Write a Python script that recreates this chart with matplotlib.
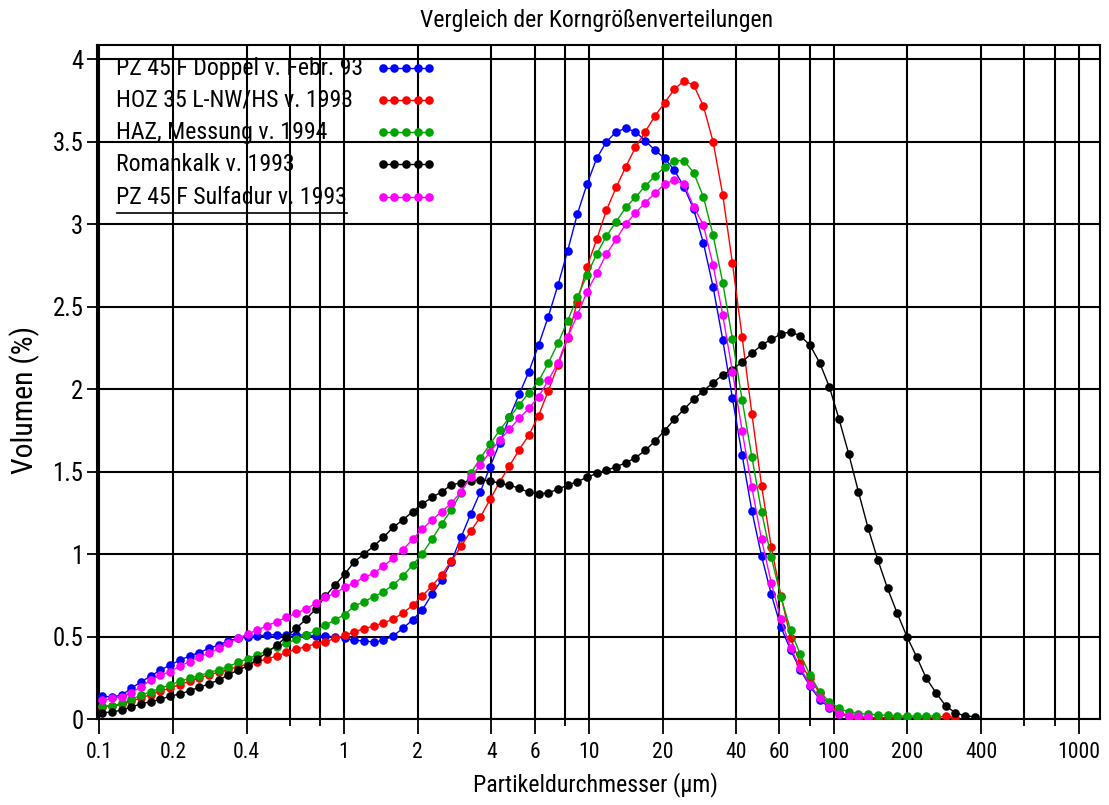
import matplotlib
matplotlib.use('Agg')
import matplotlib.pyplot as plt
from matplotlib import font_manager
from matplotlib.ticker import FixedLocator, FixedFormatter

# choose a narrow sans-serif if one is installed
_installed = {f.name for f in font_manager.fontManager.ttflist}
_candidates = ['Liberation Sans Narrow', 'Arial Narrow', 'Roboto Condensed',
               'Archivo Narrow', 'PT Sans Narrow', 'Liberation Sans', 'DejaVu Sans']
FONT = next(c for c in _candidates if c in _installed)
FAMILY = [FONT, 'DejaVu Sans']
plt.rcParams['font.family'] = FAMILY

# particle size channels (µm)
size_um = [0.1029, 0.1127, 0.1235, 0.1353, 0.1482, 0.1623, 0.1778, 0.1948, 0.2134, 0.2337,
           0.2560, 0.2805, 0.3072, 0.3366, 0.3687, 0.4039, 0.4424, 0.4846, 0.5309, 0.5815,
           0.6371, 0.6979, 0.7645, 0.8375, 0.9178, 1.0053, 1.1013, 1.2064, 1.3215, 1.4477,
           1.5860, 1.7374, 1.9033, 2.0850, 2.2841, 2.5022, 2.7411, 3.0028, 3.2895, 3.6036,
           3.9477, 4.3246, 4.7375, 5.1898, 5.6854, 6.2282, 6.8229, 7.4743, 8.1880, 8.9698,
           9.8243, 10.76, 11.79, 12.92, 14.15, 15.50, 16.98, 18.60, 20.38, 22.32,
           24.45, 26.79, 29.35, 32.15, 35.22, 38.58, 42.26, 46.30, 50.72, 55.56,
           60.86, 66.67, 73.04, 80.01, 87.65, 96.01, 105.2, 115.2, 126.2, 138.3,
           151.5, 165.9, 181.8, 199.1, 218.1, 238.9, 261.8, 286.7, 314.1, 344.1,
           376.9]

pz45_doppel = [0.14, 0.135, 0.147, 0.188, 0.228, 0.262, 0.299, 0.329, 0.359, 0.384,
               0.404, 0.43, 0.45, 0.476, 0.49, 0.497, 0.505, 0.511, 0.513, 0.513,
               0.512, 0.51, 0.506, 0.504, 0.50, 0.491, 0.478, 0.476, 0.468, 0.478,
               0.505, 0.551, 0.602, 0.662, 0.758, 0.844, 0.955, 1.103, 1.244, 1.379,
               1.531, 1.676, 1.83, 1.97, 2.107, 2.268, 2.44, 2.632, 2.84, 3.062,
               3.244, 3.40, 3.50, 3.561, 3.582, 3.561, 3.507, 3.45, 3.40, 3.329,
               3.228, 3.091, 2.888, 2.622, 2.299, 1.945, 1.602, 1.264, 0.99, 0.759,
               0.559, 0.42, 0.30, 0.20, 0.12, 0.07, 0.035, 0.015]

hoz35 = [0.075, 0.08, 0.09, 0.11, 0.13, 0.15, 0.17, 0.19, 0.21, 0.23,
         0.25, 0.27, 0.285, 0.30, 0.32, 0.335, 0.35, 0.365, 0.385, 0.405,
         0.425, 0.44, 0.458, 0.47, 0.49, 0.508, 0.53, 0.55, 0.565, 0.585,
         0.606, 0.644, 0.69, 0.747, 0.808, 0.875, 0.958, 1.048, 1.14, 1.226,
         1.333, 1.44, 1.536, 1.634, 1.723, 1.841, 1.99, 2.147, 2.309, 2.53,
         2.743, 2.909, 3.085, 3.224, 3.349, 3.467, 3.561, 3.656, 3.737, 3.818,
         3.87, 3.844, 3.717, 3.501, 3.178, 2.764, 2.317, 1.853, 1.417, 1.046,
         0.75, 0.491, 0.339, 0.248, 0.158, 0.087, 0.046, 0.02, 0.01, 0.01,
         0.01, 0.01, 0.01, 0.01, 0.01, 0.01, 0.01, 0.02, 0.01]

haz_messung = [0.083, 0.081, 0.097, 0.121, 0.147, 0.167, 0.188, 0.21, 0.23, 0.248,
               0.265, 0.283, 0.30, 0.32, 0.345, 0.368, 0.39, 0.415, 0.44, 0.46,
               0.485, 0.511, 0.537, 0.571, 0.602, 0.635, 0.687, 0.713, 0.743, 0.773,
               0.814, 0.868, 0.935, 1.002, 1.091, 1.184, 1.268, 1.373, 1.491, 1.582,
               1.668, 1.753, 1.83, 1.905, 1.978, 2.05, 2.158, 2.279, 2.416, 2.558,
               2.693, 2.82, 2.929, 3.016, 3.103, 3.164, 3.232, 3.293, 3.345, 3.386,
               3.386, 3.313, 3.167, 2.935, 2.646, 2.303, 1.935, 1.592, 1.258, 0.982,
               0.743, 0.539, 0.393, 0.268, 0.167, 0.107, 0.067, 0.043, 0.035, 0.03,
               0.026, 0.024, 0.02, 0.02, 0.02, 0.02, 0.02]

romankalk = [0.04, 0.044, 0.056, 0.076, 0.093, 0.107, 0.121, 0.141, 0.153, 0.173,
             0.194, 0.214, 0.238, 0.268, 0.299, 0.323, 0.364, 0.405, 0.45, 0.50,
             0.551, 0.606, 0.667, 0.745, 0.814, 0.88, 0.955, 1.002, 1.05, 1.103,
             1.164, 1.208, 1.258, 1.305, 1.345, 1.379, 1.42, 1.434, 1.446, 1.45,
             1.446, 1.43, 1.42, 1.40, 1.376, 1.365, 1.373, 1.394, 1.42, 1.44,
             1.467, 1.49, 1.51, 1.53, 1.555, 1.585, 1.63, 1.685, 1.75, 1.818,
             1.879, 1.939, 1.991, 2.04, 2.087, 2.12, 2.167, 2.218, 2.268, 2.303,
             2.335, 2.349, 2.323, 2.268, 2.161, 2.014, 1.818, 1.608, 1.379, 1.157,
             0.965, 0.794, 0.642, 0.501, 0.379, 0.248, 0.161, 0.081, 0.04, 0.02,
             0.016]

pz45_sulfadur = [0.115, 0.127, 0.137, 0.161, 0.198, 0.238, 0.268, 0.289, 0.323, 0.349,
                 0.379, 0.40, 0.43, 0.46, 0.491, 0.517, 0.541, 0.567, 0.592, 0.618,
                 0.642, 0.668, 0.703, 0.739, 0.764, 0.80, 0.828, 0.86, 0.885, 0.929,
                 0.976, 1.026, 1.091, 1.152, 1.208, 1.258, 1.309, 1.379, 1.47, 1.541,
                 1.622, 1.693, 1.758, 1.824, 1.885, 1.955, 2.054, 2.162, 2.316, 2.45,
                 2.592, 2.703, 2.82, 2.909, 3.002, 3.07, 3.131, 3.188, 3.244, 3.268,
                 3.244, 3.107, 2.996, 2.753, 2.45, 2.107, 1.749, 1.406, 1.091, 0.828,
                 0.606, 0.433, 0.312, 0.208, 0.127, 0.077, 0.034, 0.02, 0.02, 0.015]

series_labels = ["PZ 45 F Doppel v. Febr. 93", "HOZ 35 L-NW/HS v. 1993",
                 "HAZ, Messung v. 1994", "Romankalk v. 1993", "PZ 45 F Sulfadur v. 1993"]
series_values = [pz45_doppel, hoz35, haz_messung, romankalk, pz45_sulfadur]
series_colors = ['#0000FF', '#FF0000', '#00A400', '#000000', '#FF00FF']

x_major = [0.1, 0.2, 0.4, 1, 2, 4, 6, 10, 20, 40, 60, 100, 200, 400, 1000]
x_major_labels = ['0.1', '0.2', '0.4', '1', '2', '4', '6', '10', '20', '40', '60',
                  '100', '200', '400', '1000']
x_minor = [0.6, 0.8, 8, 80, 600, 800]
y_ticks = [0, 0.5, 1, 1.5, 2, 2.5, 3, 3.5, 4]
y_tick_labels = ['0', '0.5', '1', '1.5', '2', '2.5', '3', '3.5', '4']

title = "Vergleich der Korngrößenverteilungen"
x_label = "Partikeldurchmesser (µm)"
y_label = "Volumen (%)"

W, H = 1109, 805
fig = plt.figure(figsize=(W / 100, H / 100), dpi=100)
renderer = fig.canvas.get_renderer()


def fit_size(s, target_px, ref=20.0):
    t = fig.text(0, 0, s, fontsize=ref)
    w = t.get_window_extent(renderer).width
    t.remove()
    return ref * target_px / w


fs_title = fit_size(title, 353)
fs_xlabel = fit_size(x_label, 245)
fs_ylabel = fit_size(y_label, 148)
leg_widths = [252, 240, 207, 177, 230]
fs_leg = sum(fit_size(s, w) for s, w in zip(series_labels, leg_widths)) / len(leg_widths)
fs_xtick = (fit_size('1000', 42) + fit_size('400', 35) + fit_size('0.1', 25)) / 3
fs_ytick = (fit_size('0.5', 31) + fit_size('3.5', 31)) / 2

ax_l, ax_r, ax_t, ax_b = 96.5, 1100, 45, 719.3
ax = fig.add_axes([ax_l / W, 1 - ax_b / H, (ax_r - ax_l) / W, (ax_b - ax_t) / H])
ax.set_xscale('log')
ax.set_xlim(0.0974, 1224)
ax.set_ylim(0, 4.087)

for vals, col in zip(series_values, series_colors):
    ax.plot(size_um[:len(vals)], vals, '-o', color=col, lw=1.0, ms=6.2,
            markeredgewidth=0, zorder=3)

ax.xaxis.set_major_locator(FixedLocator(x_major))
ax.xaxis.set_major_formatter(FixedFormatter(x_major_labels))
ax.xaxis.set_minor_locator(FixedLocator(x_minor))
ax.xaxis.set_minor_formatter(FixedFormatter([''] * len(x_minor)))
ax.yaxis.set_major_locator(FixedLocator(y_ticks))
ax.yaxis.set_major_formatter(FixedFormatter(y_tick_labels))
ax.yaxis.set_minor_locator(FixedLocator([]))

ax.grid(True, which='both', axis='both', color='black', lw=1.5, zorder=1)
ax.set_axisbelow(True)
for s in ax.spines.values():
    s.set_linewidth(1.5)

ax.tick_params(axis='x', which='major', direction='out', length=11, width=1.3,
               labelsize=fs_xtick, pad=5)
ax.tick_params(axis='x', which='minor', direction='out', length=5, width=1.3)
ax.tick_params(axis='y', which='major', direction='out', length=7.5, width=1.3,
               labelsize=fs_ytick, pad=2)


def fx(px):
    return (px - ax_l) / (ax_r - ax_l)


def fy(py):
    return (ax_b - py) / (ax_b - ax_t)


ax.set_xlabel(x_label, fontsize=fs_xlabel)
ax.xaxis.set_label_coords(fx(595.5), fy(785))
ax.xaxis.label.set_va('center')
ax.set_ylabel(y_label, fontsize=fs_ylabel)
ax.yaxis.set_label_coords(fx(25), fy(400))
ax.yaxis.label.set_va('center')

fig.text(597 / W, 1 - 21 / H, title, ha='center', va='center', fontsize=fs_title)

# legend (drawn in axes coordinates: text left, line sample right)
row_py = [68.5, 100.5, 132, 164.5, 197]
sample_px = [382.7, 394.3, 406, 417.7, 429.3]
for lab, col, py in zip(series_labels, series_colors, row_py):
    ax.text(fx(116), fy(py), lab, transform=ax.transAxes, ha='left', va='center',
            fontsize=fs_leg, zorder=5)
    ax.plot([fx(p) for p in sample_px], [fy(py)] * 5, '-o', color=col, lw=1.0,
            ms=6.2, markeredgewidth=0, transform=ax.transAxes, clip_on=False, zorder=5)
ax.plot([fx(116.7), fx(346.7)], [fy(213), fy(213)], color='black', lw=1.2,
        transform=ax.transAxes, zorder=5)

fig.savefig('out.png', dpi=100)
